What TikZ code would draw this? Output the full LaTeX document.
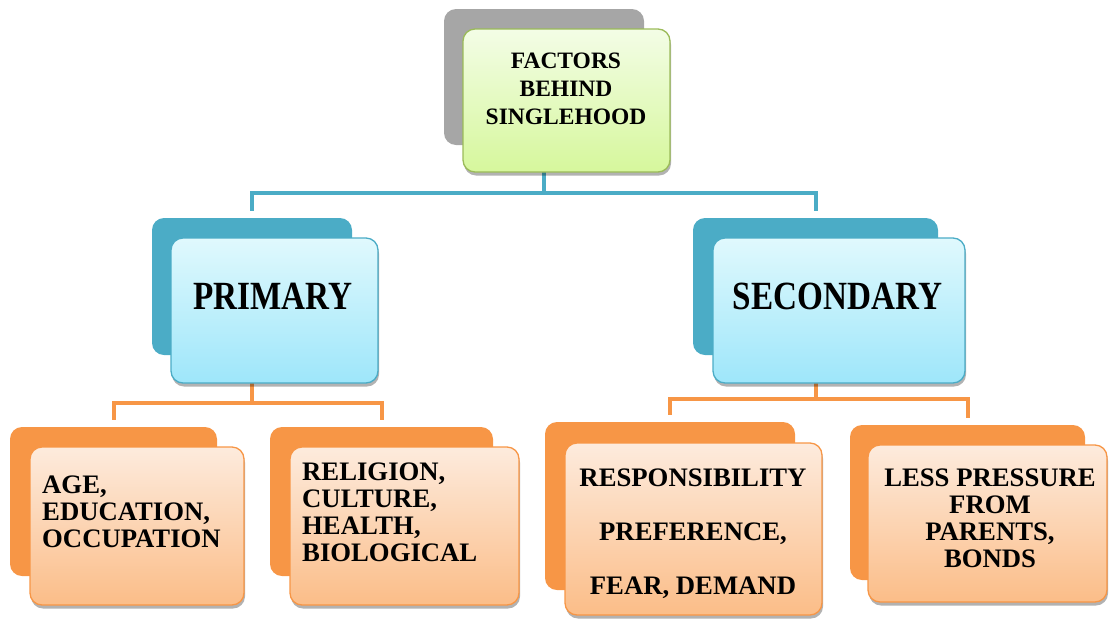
\documentclass[tikz,border=0pt]{standalone}
\usepackage{fontspec}
\setmainfont{Liberation Serif}
\usetikzlibrary{shadows}

\definecolor{greyback}{HTML}{A6A6A6}
\definecolor{greenedge}{HTML}{9BBB59}
\definecolor{greentop}{HTML}{F3FDE6}
\definecolor{greenbot}{HTML}{D6F79C}
\definecolor{tealc}{HTML}{4BACC6}
\definecolor{bluetop}{HTML}{E0F9FD}
\definecolor{bluebot}{HTML}{9EE6FA}
\definecolor{orangec}{HTML}{F79646}
\definecolor{orangetop}{HTML}{FDEBDD}
\definecolor{orangebot}{HTML}{FBBD88}

\tikzset{
  panel/.style={rectangle, rounded corners=12pt, inner sep=0pt},
  backpanel/.style={panel, fill=#1, draw=none},
  frontpanel/.style 2 args={panel, draw=#1, line width=1.3pt,
    top color=#2top, bottom color=#2bot,
    drop shadow={shadow xshift=1pt, shadow yshift=-3.5pt, fill=black, opacity=0.3}},
  tealline/.style={draw=tealc, line width=4pt, shorten >=7pt},
  orangeline/.style={draw=orangec, line width=4pt, shorten >=7pt},
  titletext/.style={font=\bfseries\fontsize{23.5}{28}\selectfont, align=center, inner sep=0pt},
  headtext/.style={font=\bfseries\fontsize{40}{42}\selectfont, inner sep=0pt},
  leaftext/.style={font=\bfseries\fontsize{26.7}{27}\selectfont, inner sep=0pt},
}

\begin{document}
\begin{tikzpicture}[x=1pt, y=-1pt]
  \useasboundingbox (0,0) rectangle (1109,619);

  % back panels
  \node[backpanel=greyback, minimum width=200, minimum height=136] (tb) at (544,77) {};
  \node[backpanel=tealc, minimum width=200, minimum height=137] (pb) at (252,286.5) {};
  \node[backpanel=tealc, minimum width=245, minimum height=137] (sb) at (815.5,286.5) {};
  \node[backpanel=orangec, minimum width=207, minimum height=149] (ab) at (113.5,501.5) {};
  \node[backpanel=orangec, minimum width=223, minimum height=149] (rb) at (381.5,501.5) {};
  \node[backpanel=orangec, minimum width=250, minimum height=168] (cb) at (670,506) {};
  \node[backpanel=orangec, minimum width=235, minimum height=155] (lb) at (967.5,502.5) {};

  % connectors
  \draw[tealline] (tb.south) -- ++(0,48) -| (pb.north);
  \draw[tealline] (tb.south) -- ++(0,48) -| (sb.north);
  \draw[orangeline] (pb.south) -- ++(0,48) -| (ab.north);
  \draw[orangeline] (pb.south) -- ++(0,48) -| (rb.north);
  \draw[orangeline] (sb.south) -- ++(0,44) -| (cb.north);
  \draw[orangeline] (sb.south) -- ++(0,44) -| (lb.north);

  % front panels
  \node[frontpanel={greenedge}{green}, minimum width=207, minimum height=143] (tf) at (566.5,100.5) {};
  \node[frontpanel={tealc}{blue}, minimum width=207, minimum height=145] (pf) at (274.5,310.5) {};
  \node[frontpanel={tealc}{blue}, minimum width=252, minimum height=145] (sf) at (839,310.5) {};
  \node[frontpanel={orangec}{orange}, minimum width=214, minimum height=158] (af) at (137,526) {};
  \node[frontpanel={orangec}{orange}, minimum width=229, minimum height=158] (rf) at (404.5,526) {};
  \node[frontpanel={orangec}{orange}, minimum width=257, minimum height=172] (cf) at (693.5,529) {};
  \node[frontpanel={orangec}{orange}, minimum width=239, minimum height=157] (lf) at (987.5,523.5) {};

  % labels
  \node[titletext] (tt) at (566,88.5) {FACTORS\\BEHIND\\SINGLEHOOD};
  \node[headtext] (pt) at (273,296) {\scalebox{0.83}[1]{PRIMARY}};
  \node[headtext] (st) at (837.5,296) {\scalebox{0.83}[1]{SECONDARY}};
  \node[leaftext, align=left, anchor=west] (at) at (42,512) {AGE,\\EDUCATION,\\OCCUPATION};
  \node[leaftext, align=left, anchor=west] (rt) at (302,512.5) {RELIGION,\\CULTURE,\\HEALTH,\\BIOLOGICAL};
  \node[leaftext, align=center] (ct) at (693,534) {RESPONSIBILITY\\[27pt]PREFERENCE,\\[27pt]FEAR, DEMAND};
  \node[leaftext, align=center] (lt) at (990,518) {LESS PRESSURE\\FROM\\PARENTS,\\BONDS};
\end{tikzpicture}
\end{document}
